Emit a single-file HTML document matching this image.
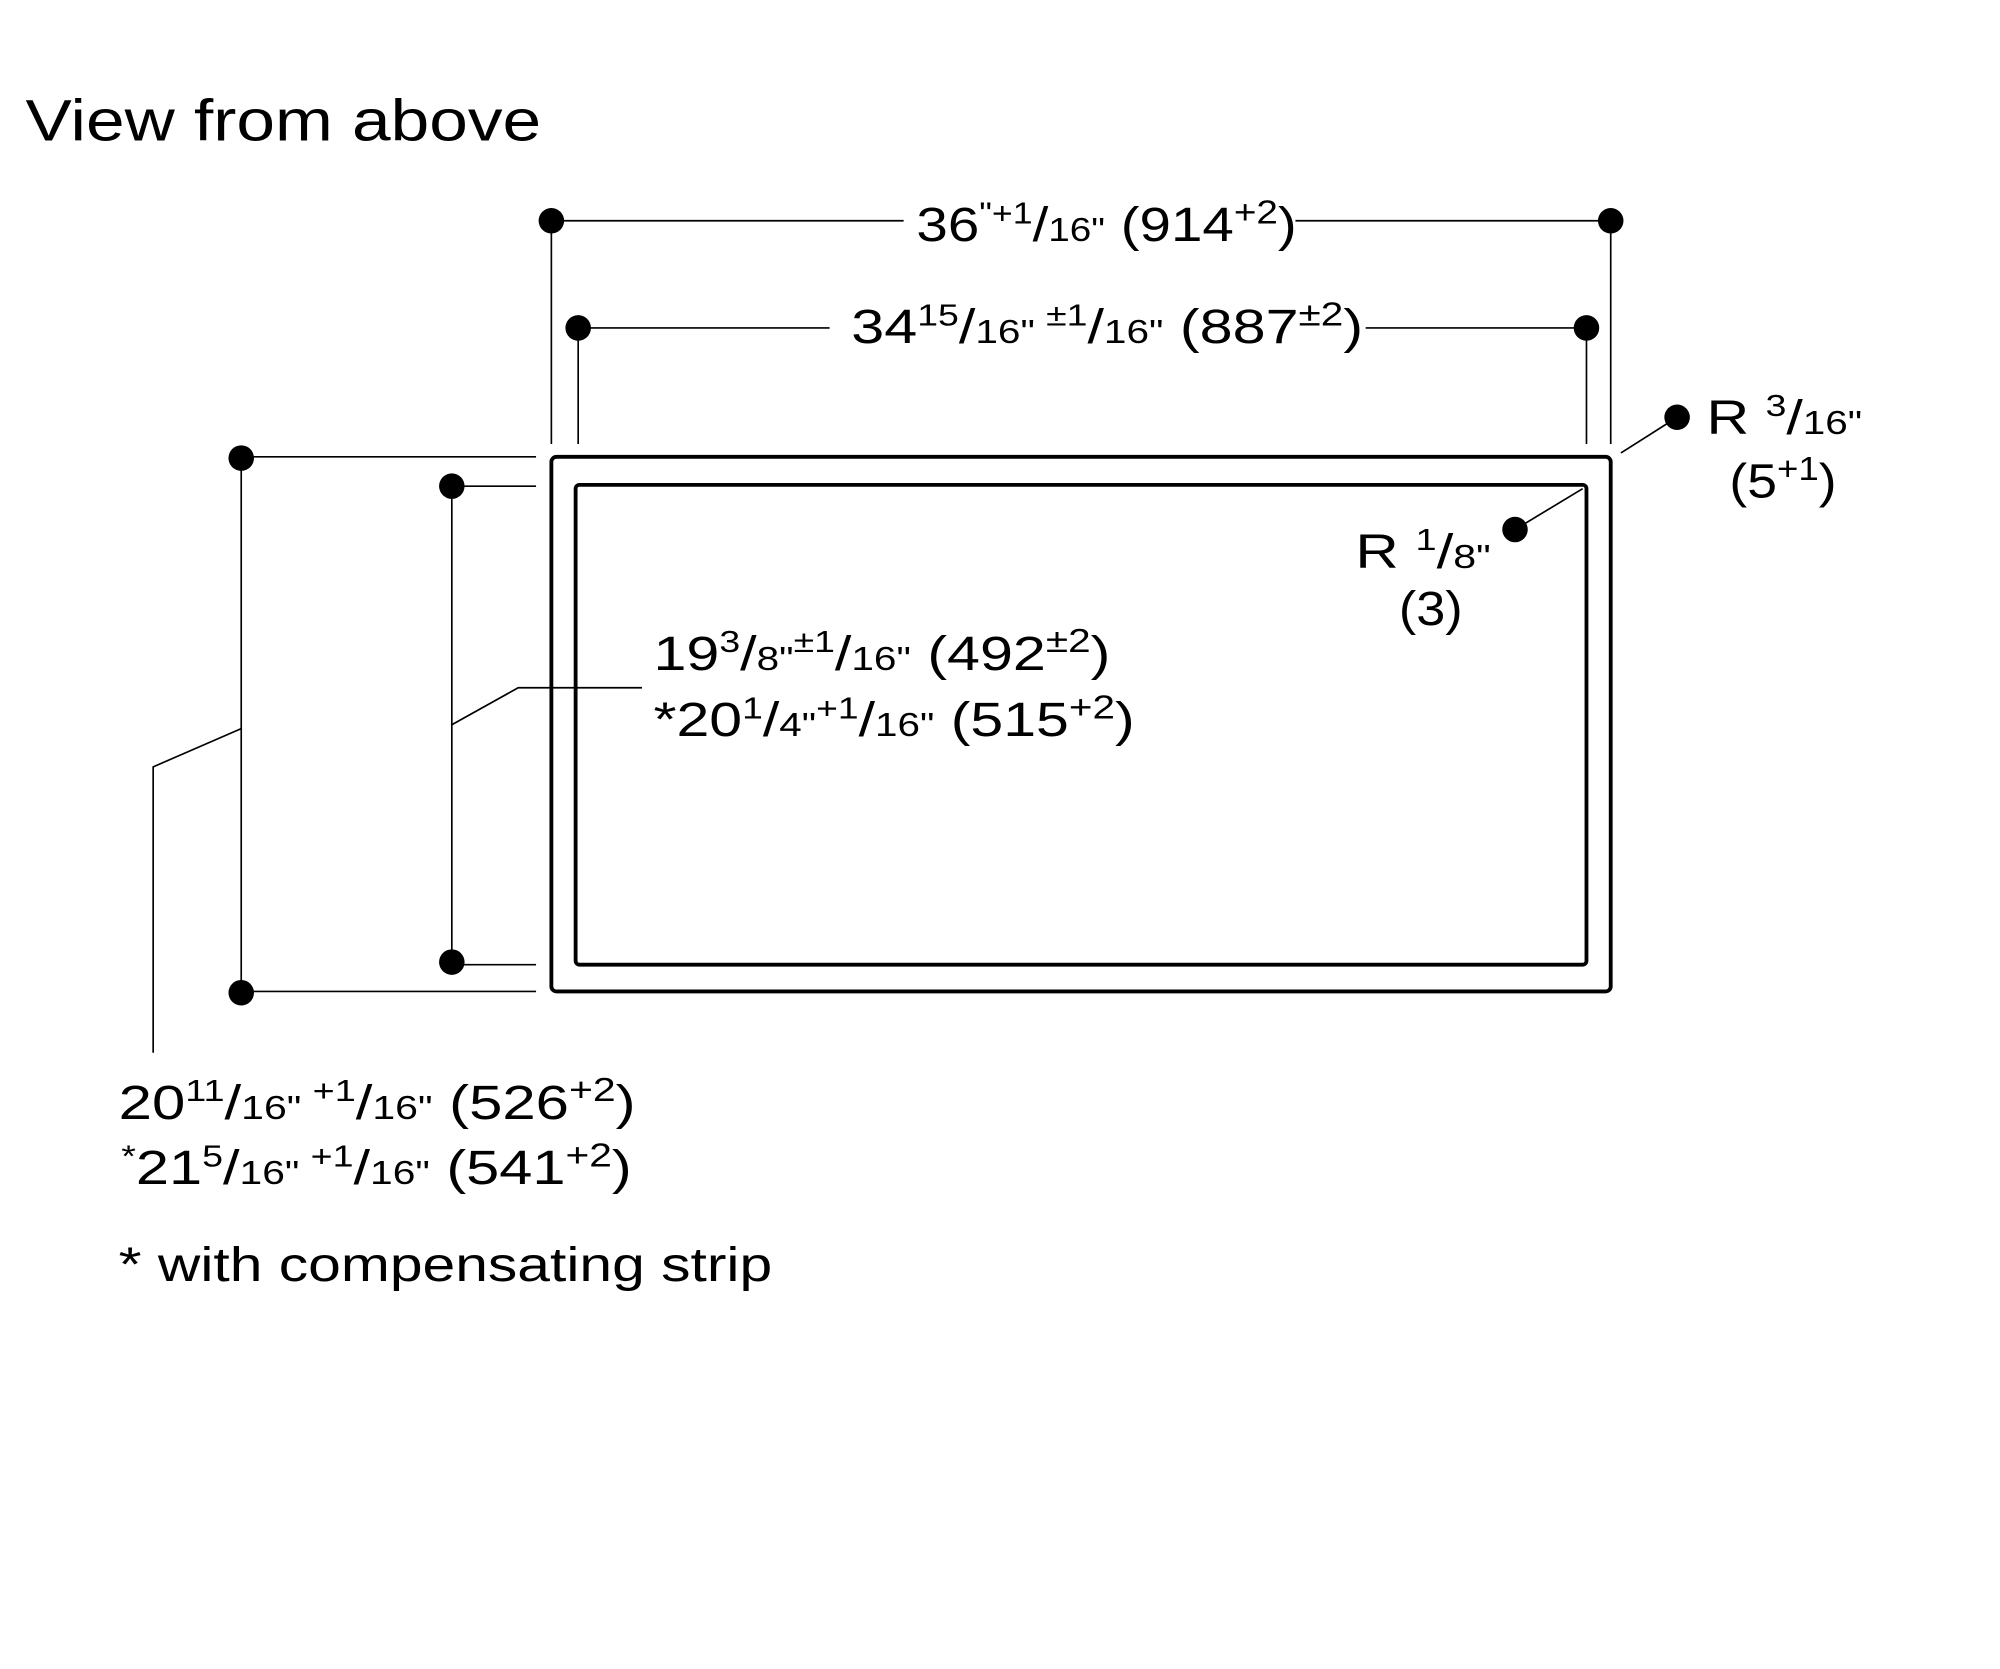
<!DOCTYPE html>
<html><head><meta charset="utf-8"><style>
html,body{margin:0;padding:0;background:#fff}
svg{display:block}
text{font-family:"Liberation Sans",sans-serif;fill:#000}
</style></head><body>
<svg width="2000" height="1669" viewBox="0 0 1567 1308" preserveAspectRatio="none" xmlns="http://www.w3.org/2000/svg">
<text x="20" y="110" font-size="46" textLength="404" lengthAdjust="spacingAndGlyphs">View from above</text>
<g stroke="#000" stroke-width="1.3" fill="none">
<line x1="432" y1="173" x2="708" y2="173"/><line x1="1015" y1="173" x2="1262" y2="173"/>
<line x1="432" y1="173" x2="432" y2="348"/><line x1="1262" y1="173" x2="1262" y2="348"/>
<line x1="453" y1="257" x2="650" y2="257"/><line x1="1070" y1="257" x2="1243" y2="257"/>
<line x1="453" y1="257" x2="453" y2="348"/><line x1="1243" y1="257" x2="1243" y2="348"/>
<line x1="189" y1="358" x2="420" y2="358"/><line x1="189" y1="777" x2="420" y2="777"/>
<line x1="189" y1="358" x2="189" y2="778"/>
<line x1="354" y1="381" x2="420" y2="381"/><line x1="354" y1="756" x2="420" y2="756"/>
<line x1="354" y1="381" x2="354" y2="754"/>
<polyline points="189,571 120,601 120,825"/>
<polyline points="354,568 406,539 503,539"/>
<line x1="1314" y1="327" x2="1270" y2="355"/>
<line x1="1187" y1="415" x2="1240" y2="383"/>
</g>
<g stroke="#000" stroke-width="3" fill="none">
<rect x="432" y="358" width="830" height="419" rx="4"/>
<rect x="451" y="380" width="792" height="376" rx="3"/>
</g>
<g fill="#000">
<circle cx="432" cy="173" r="10"/><circle cx="1262" cy="173" r="10"/>
<circle cx="453" cy="257" r="10"/><circle cx="1243" cy="257" r="10"/>
<circle cx="189" cy="359" r="10"/><circle cx="189" cy="778" r="10"/>
<circle cx="354" cy="381" r="10"/><circle cx="354" cy="754" r="10"/>
<circle cx="1314" cy="327" r="10"/><circle cx="1187" cy="415" r="10"/>
</g>
<g font-size="38">
<text x="718" y="189" textLength="298" lengthAdjust="spacingAndGlyphs">36<tspan font-size="24" dy="-14">"+1</tspan><tspan dy="14">/</tspan><tspan font-size="26">16"</tspan> (914<tspan font-size="26" dy="-14">+2</tspan><tspan dy="14">)</tspan></text>
<text x="667" y="269" textLength="401" lengthAdjust="spacingAndGlyphs">34<tspan font-size="24" dy="-14">15</tspan><tspan dy="14">/</tspan><tspan font-size="26">16" </tspan><tspan font-size="24" dy="-14">±1</tspan><tspan dy="14">/</tspan><tspan font-size="26">16"</tspan> (887<tspan font-size="26" dy="-14">±2</tspan><tspan dy="14">)</tspan></text>
<text x="512" y="525" textLength="358" lengthAdjust="spacingAndGlyphs">19<tspan font-size="24" dy="-14">3</tspan><tspan dy="14">/</tspan><tspan font-size="26">8"</tspan><tspan font-size="24" dy="-14">±1</tspan><tspan dy="14">/</tspan><tspan font-size="26">16"</tspan> (492<tspan font-size="26" dy="-14">±2</tspan><tspan dy="14">)</tspan></text>
<text x="512" y="577" textLength="377" lengthAdjust="spacingAndGlyphs">*20<tspan font-size="24" dy="-14">1</tspan><tspan dy="14">/</tspan><tspan font-size="26">4"</tspan><tspan font-size="24" dy="-14">+1</tspan><tspan dy="14">/</tspan><tspan font-size="26">16"</tspan> (515<tspan font-size="26" dy="-14">+2</tspan><tspan dy="14">)</tspan></text>
<text x="93" y="877" textLength="405" lengthAdjust="spacingAndGlyphs">20<tspan font-size="24" dy="-14">11</tspan><tspan dy="14">/</tspan><tspan font-size="26">16" </tspan><tspan font-size="24" dy="-14">+1</tspan><tspan dy="14">/</tspan><tspan font-size="26">16"</tspan> (526<tspan font-size="26" dy="-14">+2</tspan><tspan dy="14">)</tspan></text>
<text x="95" y="928" textLength="400" lengthAdjust="spacingAndGlyphs"><tspan font-size="24" dy="-14">*</tspan><tspan dy="14">21</tspan><tspan font-size="24" dy="-14">5</tspan><tspan dy="14">/</tspan><tspan font-size="26">16" </tspan><tspan font-size="24" dy="-14">+1</tspan><tspan dy="14">/</tspan><tspan font-size="26">16"</tspan> (541<tspan font-size="26" dy="-14">+2</tspan><tspan dy="14">)</tspan></text>
<text x="93" y="1004" textLength="512" lengthAdjust="spacingAndGlyphs">* with compensating strip</text>
<text x="1337" y="340" textLength="122" lengthAdjust="spacingAndGlyphs">R <tspan font-size="24" dy="-14">3</tspan><tspan dy="14">/</tspan><tspan font-size="26">16"</tspan></text>
<text x="1355" y="390" textLength="84" lengthAdjust="spacingAndGlyphs">(5<tspan font-size="26" dy="-14">+1</tspan><tspan dy="14">)</tspan></text>
<text x="1062" y="445" textLength="106" lengthAdjust="spacingAndGlyphs">R <tspan font-size="24" dy="-14">1</tspan><tspan dy="14">/</tspan><tspan font-size="26">8"</tspan></text>
<text x="1096" y="490" textLength="50" lengthAdjust="spacingAndGlyphs">(3)</text>
</g>
</svg>
</body></html>
